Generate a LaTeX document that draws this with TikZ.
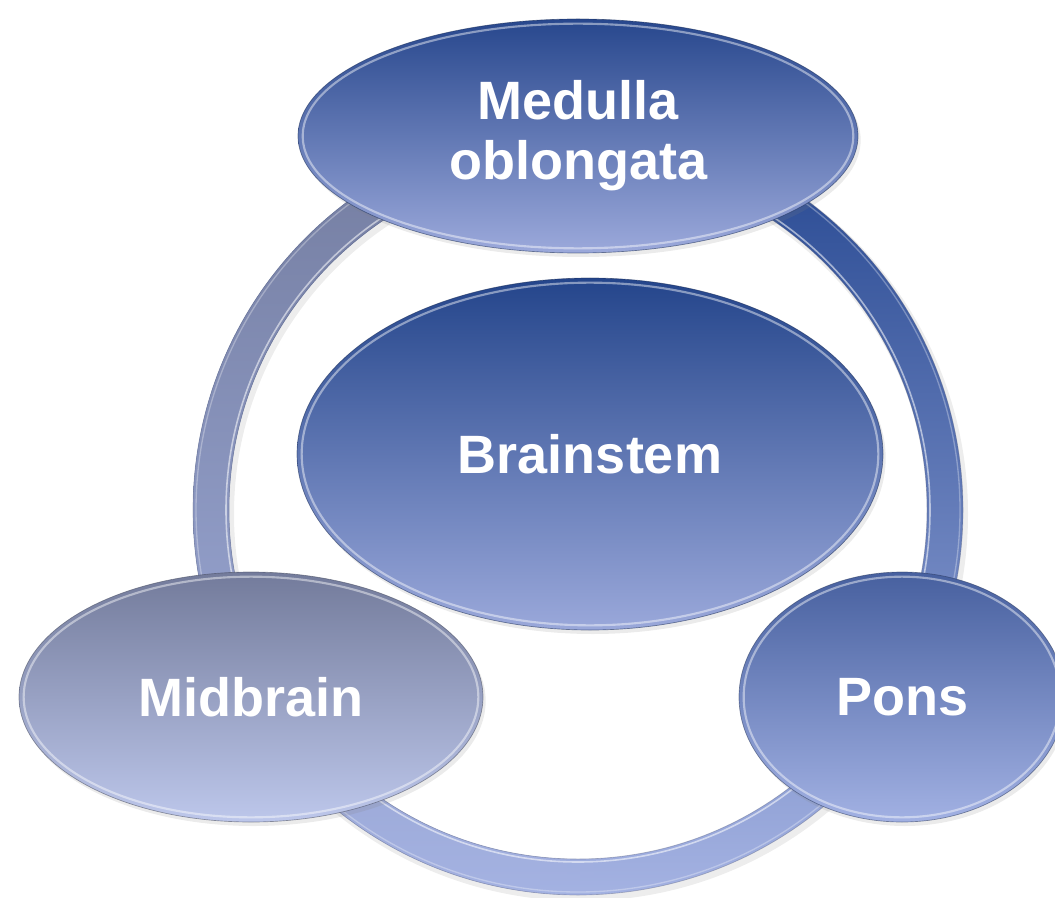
\documentclass[tikz,border=0pt]{standalone}
\usepackage{fontspec}
\setmainfont{Liberation Sans}
\usetikzlibrary{shapes.geometric,shadows,fadings}
\definecolor{medTop}{HTML}{27478D}
\definecolor{medBot}{HTML}{9CA9DB}
\definecolor{brTop}{HTML}{24458B}
\definecolor{brBot}{HTML}{9AA8DA}
\definecolor{ponsTop}{HTML}{47609F}
\definecolor{ponsBot}{HTML}{A2B1E3}
\definecolor{midTop}{HTML}{737B9B}
\definecolor{midBot}{HTML}{BDC7EB}
\definecolor{ringLTop}{HTML}{737C9F}
\definecolor{ringRTop}{HTML}{244690}
\definecolor{ringBot}{HTML}{A4B2E2}
\tikzfading[name=ringfade, left color=transparent!0, right color=transparent!100]
\tikzset{
  bub/.style n args={4}{ellipse, minimum width=#1, minimum height=#2,
    top color=#3, bottom color=#4, draw=#3!60!black, draw opacity=0.55, line width=0.5pt,
    drop shadow={opacity=0.16, shadow xshift=2pt, shadow yshift=-3pt},
    text=white, font=\fontsize{40.5}{45}\selectfont\bfseries, align=center,
    path picture={\draw[white, opacity=0.45, line width=1.6pt]
      (path picture bounding box.center) ellipse [x radius=#1/2-3.5pt, y radius=#2/2-3.5pt];}},
  ringedge/.style={line width=0.5pt, draw=#1},
}
\begin{document}
\begin{tikzpicture}[x=0.75pt, y=-0.75pt]
\useasboundingbox (0,0) rectangle (1055,898);
% ring shadow
\fill[black, opacity=0.07, even odd rule] (581,514) circle [radius=387] (581,514) circle [radius=347];
% ring
\begin{scope}[even odd rule]
  \clip (578,510) circle [radius=385] (578,510) circle [radius=349];
  \shade[top color=ringRTop, bottom color=ringBot] (190,125) rectangle (966,895);
  \shade[top color=ringLTop, bottom color=ringBot] (190,125) rectangle (540,895);
  \shade[top color=ringLTop, bottom color=ringBot, path fading=ringfade] (539,125) rectangle (620,895);
\end{scope}
\draw[white, opacity=0.55, line width=1.2pt] (578,510) circle [radius=352];
\draw[white, opacity=0.3, line width=1pt] (578,510) circle [radius=382];
\draw[ringedge=ringLTop!80!black, opacity=0.4] (578,510) circle [radius=385] (578,510) circle [radius=349];
% bubbles
\node[bub={420pt}{175.5pt}{medTop}{medBot}] (med) at (578,136) {Medulla\\oblongata};
\node[bub={439.5pt}{264pt}{brTop}{brBot}] (brain) at (590,454) {Brainstem};
\node[bub={348pt}{187.5pt}{midTop}{midBot}] (mid) at (251,697) {Midbrain};
\node[bub={244.5pt}{187.5pt}{ponsTop}{ponsBot}] (pons) at (902,697) {Pons};
\end{tikzpicture}
\end{document}
